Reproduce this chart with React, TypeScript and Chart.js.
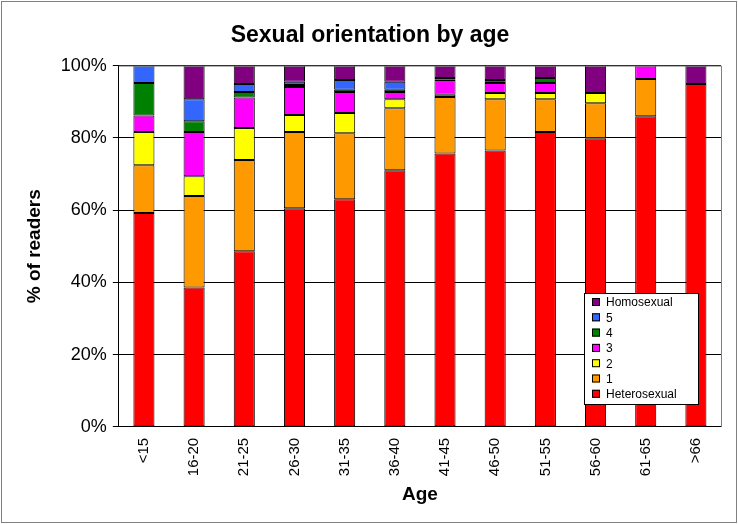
import React, { useEffect, useRef } from "react";
import { Chart, registerables } from "chart.js";
Chart.register(...registerables);

const categories = ["<15","16-20","21-25","26-30","31-35","36-40","41-45","46-50","51-55","56-60","61-65",">66"];
const hetero = [59.2,38.6,48.6,60.5,63.0,71.0,75.7,76.5,81.6,79.9,86.0,94.9];
const one =    [13.2,25.3,25.3,21.1,18.3,17.2,15.6,14.2,9.1,9.7,10.3,0];
const two =    [9.2,5.5,8.8,4.7,5.6,2.5,0.6,1.7,1.7,2.8,0,0];
const three =  [4.6,12.2,8.5,7.8,5.8,2.0,4.1,2.8,2.8,0,3.7,0];
const four =   [9.0,3.0,1.5,0.5,0.6,0.6,0.1,0.8,1.4,0,0,0];
const five =   [4.8,6.1,2.2,0.9,2.7,2.2,0.5,0,0,0,0,0];
const homo =   [0,9.3,5.1,4.5,4.0,4.5,3.4,4.0,3.4,7.6,0,5.1];
const yTicks = [0,20,40,60,80,100];

const series = [
  { label: "Heterosexual", data: hetero, color: "#ff0000" },
  { label: "1", data: one, color: "#ff9900" },
  { label: "2", data: two, color: "#ffff00" },
  { label: "3", data: three, color: "#ff00ff" },
  { label: "4", data: four, color: "#008000" },
  { label: "5", data: five, color: "#3366ff" },
  { label: "Homosexual", data: homo, color: "#800080" },
];

const framePlugin = {
  id: "frame",
  afterDraw(chart: any) {
    const { ctx, chartArea: a } = chart;
    ctx.save();
    ctx.strokeStyle = "#808080";
    ctx.lineWidth = 1;
    ctx.beginPath();
    ctx.moveTo(a.left, a.top + 0.5); ctx.lineTo(a.right + 0.5, a.top + 0.5); ctx.lineTo(a.right + 0.5, a.bottom);
    ctx.stroke();
    ctx.strokeRect(1.5, 1.5, chart.width - 3, chart.height - 3);
    const lx = 584, ly = 293, lw = 114, lh = 111;
    ctx.fillStyle = "#fff";
    ctx.fillRect(lx, ly, lw, lh);
    ctx.strokeStyle = "#000";
    ctx.strokeRect(lx + 0.5, ly + 0.5, lw, lh);
    ctx.font = "12px Arial, 'Liberation Sans'";
    ctx.textBaseline = "middle";
    const rev = [...series].reverse();
    rev.forEach((s, i) => {
      const y = ly + 9 + i * 15.3;
      ctx.fillStyle = s.color;
      ctx.fillRect(lx + 8, y - 4, 8, 8);
      ctx.strokeRect(lx + 8.5, y - 3.5, 7, 7);
      ctx.fillStyle = "#000";
      ctx.fillText(s.label, lx + 22, y + 1);
    });
    ctx.restore();
  },
};

export default function App() {
  const ref = useRef<HTMLCanvasElement>(null);
  useEffect(() => {
    document.body.style.margin = "0";
    const chart = new Chart(ref.current!, {
      type: "bar",
      data: {
        labels: categories,
        datasets: series.map((s) => ({
          label: s.label,
          data: s.data,
          backgroundColor: s.color,
          borderColor: "#000",
          borderWidth: 1,
          borderSkipped: false,
          barPercentage: 0.42,
          categoryPercentage: 1,
        })),
      },
      options: {
        animation: false,
        responsive: false,
        layout: { padding: { left: 19, right: 17, top: 14, bottom: 14 } },
        plugins: {
          legend: { display: false },
          tooltip: { enabled: false },
          title: {
            display: true,
            text: "Sexual orientation by age",
            color: "#000",
            font: { family: "Arial, 'Liberation Sans'", size: 23, weight: "bold" },
            padding: { top: 8, bottom: 16 },
          },
        },
        scales: {
          x: {
            stacked: true,
            grid: { display: false },
            border: { color: "#000" },
            ticks: {
              color: "#000",
              maxRotation: 90,
              minRotation: 90,
              font: { family: "Arial, 'Liberation Sans'", size: 15 },
            },
            title: {
              display: true,
              text: "Age",
              color: "#000",
              font: { family: "Arial, 'Liberation Sans'", size: 19, weight: "bold" },
              padding: { top: 4 },
            },
          },
          y: {
            stacked: true,
            min: 0,
            max: 100,
            afterBuildTicks: (ax: any) => { ax.ticks = yTicks.map((v) => ({ value: v })); },
            grid: { color: "#000", drawTicks: true, tickLength: 6 },
            border: { color: "#000" },
            ticks: {
              color: "#000",
              padding: 6,
              font: { family: "Arial, 'Liberation Sans'", size: 18 },
              callback: (v: any) => v + "%",
            },
            title: {
              display: true,
              text: "% of readers",
              color: "#000",
              font: { family: "Arial, 'Liberation Sans'", size: 19, weight: "bold" },
              padding: { bottom: 9 },
            },
          },
        },
      },
      plugins: [framePlugin],
    });
    return () => chart.destroy();
  }, []);
  return <canvas ref={ref} width={738} height={524} />;
}
